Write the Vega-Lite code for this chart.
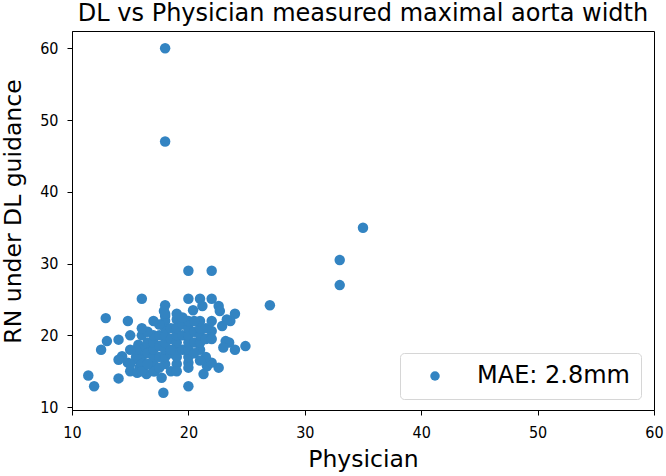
{
  "$schema": "https://vega.github.io/schema/vega-lite/v6.json",
  "width": 582,
  "height": 379,
  "autosize": "none",
  "padding": {"left": 72, "top": 31, "right": 12, "bottom": 66},
  "background": "white",
  "title": {"text": "DL vs Physician measured maximal aorta width", "fontSize": 24, "font": "DejaVu Sans", "fontWeight": "normal", "color": "black", "anchor": "middle", "offset": 5},
  "config": {
    "view": {"stroke": "black", "strokeWidth": 1},
    "axis": {"grid": false, "domainColor": "black", "tickColor": "black", "tickSize": 5, "labelColor": "black", "labelFont": "DejaVu Sans Condensed, DejaVu Sans", "labelFontSize": 16, "labelFlush": false, "titleFont": "DejaVu Sans", "titleFontSize": 23.5, "titleFontWeight": "normal", "titleColor": "black", "labelPadding": 9}
  },
  "data": {"values": [
    {"physician": 18, "rn": 60}, {"physician": 18, "rn": 47}, {"physician": 35, "rn": 35}, {"physician": 33, "rn": 30.5}, {"physician": 33, "rn": 27}, {"physician": 27, "rn": 24.2},
    {"physician": 20, "rn": 29}, {"physician": 22, "rn": 29},
    {"physician": 16, "rn": 25.1}, {"physician": 20, "rn": 25.1}, {"physician": 21, "rn": 25.1}, {"physician": 22, "rn": 25.1},
    {"physician": 18, "rn": 24.2}, {"physician": 17.9, "rn": 23.4}, {"physician": 21.2, "rn": 24.1}, {"physician": 22.6, "rn": 24.1}, {"physician": 22.7, "rn": 23.4}, {"physician": 20.4, "rn": 23.5}, {"physician": 24, "rn": 23}, {"physician": 23.6, "rn": 22}, {"physician": 23.3, "rn": 22.2}, {"physician": 22.9, "rn": 21.3}, {"physician": 22, "rn": 20.6}, {"physician": 21.9, "rn": 19.7}, {"physician": 23.2, "rn": 19.2}, {"physician": 23.5, "rn": 19}, {"physician": 23, "rn": 18.3}, {"physician": 24, "rn": 18}, {"physician": 24.9, "rn": 18.5},
    {"physician": 12.9, "rn": 22.4}, {"physician": 14.8, "rn": 22}, {"physician": 18, "rn": 22.7},
    {"physician": 13, "rn": 19.2}, {"physician": 14, "rn": 19.4}, {"physician": 12.5, "rn": 18}, {"physician": 14.3, "rn": 17.1}, {"physician": 14, "rn": 16.6}, {"physician": 14.8, "rn": 16.2}, {"physician": 15, "rn": 15}, {"physician": 15.7, "rn": 18.7}, {"physician": 16.4, "rn": 18}, {"physician": 15.7, "rn": 16.6}, {"physician": 15.8, "rn": 15.5}, {"physician": 16.4, "rn": 14.6}, {"physician": 17.7, "rn": 14.1}, {"physician": 17.85, "rn": 12}, {"physician": 11.4, "rn": 14.4}, {"physician": 11.9, "rn": 12.9}, {"physician": 14, "rn": 14}, {"physician": 17.1, "rn": 15}, {"physician": 20, "rn": 16.2}, {"physician": 21.6, "rn": 15.7}, {"physician": 22.6, "rn": 15.5}, {"physician": 22, "rn": 16.2}, {"physician": 21.3, "rn": 14.6}, {"physician": 20, "rn": 12.9}, {"physician": 15.6, "rn": 14.8}, {"physician": 19, "rn": 22.2},
    {"physician": 16, "rn": 17}, {"physician": 16, "rn": 18}, {"physician": 16.5, "rn": 17.5}, {"physician": 16.5, "rn": 19}, {"physician": 17, "rn": 16}, {"physician": 17, "rn": 17}, {"physician": 17, "rn": 18}, {"physician": 17, "rn": 19}, {"physician": 17, "rn": 20}, {"physician": 17.5, "rn": 18.5}, {"physician": 17.5, "rn": 17}, {"physician": 17.5, "rn": 20}, {"physician": 18, "rn": 16}, {"physician": 18, "rn": 17}, {"physician": 18, "rn": 18}, {"physician": 18, "rn": 19}, {"physician": 18, "rn": 20}, {"physician": 18, "rn": 21}, {"physician": 18, "rn": 22}, {"physician": 18.5, "rn": 17.5}, {"physician": 18.5, "rn": 19.5}, {"physician": 18.5, "rn": 21}, {"physician": 19, "rn": 16}, {"physician": 19, "rn": 17}, {"physician": 19, "rn": 18}, {"physician": 19, "rn": 19}, {"physician": 19, "rn": 20}, {"physician": 19, "rn": 21}, {"physician": 19.5, "rn": 18}, {"physician": 19.5, "rn": 20}, {"physician": 19.5, "rn": 21.5}, {"physician": 20, "rn": 17}, {"physician": 20, "rn": 18}, {"physician": 20, "rn": 19}, {"physician": 20, "rn": 20}, {"physician": 20, "rn": 21}, {"physician": 20, "rn": 22}, {"physician": 20.5, "rn": 19}, {"physician": 20.5, "rn": 20.5}, {"physician": 21, "rn": 18}, {"physician": 21, "rn": 19}, {"physician": 21, "rn": 20}, {"physician": 21, "rn": 21}, {"physician": 21, "rn": 22}, {"physician": 21.5, "rn": 19.5}, {"physician": 21.5, "rn": 21}, {"physician": 22, "rn": 19.5}, {"physician": 22, "rn": 22}, {"physician": 16, "rn": 20}, {"physician": 15.5, "rn": 17}, {"physician": 15.5, "rn": 18}, {"physician": 16, "rn": 16}, {"physician": 17, "rn": 15}, {"physician": 17.5, "rn": 15.5}, {"physician": 18.5, "rn": 15}, {"physician": 19, "rn": 15}, {"physician": 20, "rn": 15.5}, {"physician": 16.5, "rn": 20.5}, {"physician": 17.5, "rn": 21.5}, {"physician": 18, "rn": 23}, {"physician": 19, "rn": 23}, {"physician": 20.5, "rn": 22}, {"physician": 19.5, "rn": 22.5}, {"physician": 17, "rn": 22}, {"physician": 16, "rn": 21}, {"physician": 15, "rn": 20}, {"physician": 15, "rn": 18}, {"physician": 15, "rn": 16}, {"physician": 16, "rn": 15}, {"physician": 16.5, "rn": 16}, {"physician": 18.5, "rn": 18}, {"physician": 20.5, "rn": 17.5}, {"physician": 21.5, "rn": 17}, {"physician": 21, "rn": 16.5}
  ]},
  "transform": [{"calculate": "'MAE: 2.8mm'", "as": "series"}],
  "mark": {"type": "circle", "size": 110, "opacity": 1},
  "encoding": {
    "x": {"field": "physician", "type": "quantitative", "title": "Physician", "scale": {"domain": [10, 60], "nice": false, "zero": false}, "axis": {"values": [10, 20, 30, 40, 50, 60], "titlePadding": 7}},
    "y": {"field": "rn", "type": "quantitative", "title": "RN under DL guidance", "scale": {"domain": [9.6, 62.4], "nice": false, "zero": false}, "axis": {"values": [10, 20, 30, 40, 50, 60], "titlePadding": 14, "titleY": 180}},
    "color": {"field": "series", "type": "nominal", "scale": {"range": ["#3384c2"]}, "legend": {"title": null, "orient": "none", "legendX": 328, "legendY": 322, "padding": 11, "strokeColor": "#d6d6d6", "fillColor": "white", "cornerRadius": 4, "symbolType": "circle", "symbolSize": 90, "symbolOpacity": 1, "symbolOffset": 12, "labelOffset": 30, "labelFont": "DejaVu Sans", "labelFontSize": 24, "labelColor": "black"}}
  }
}
